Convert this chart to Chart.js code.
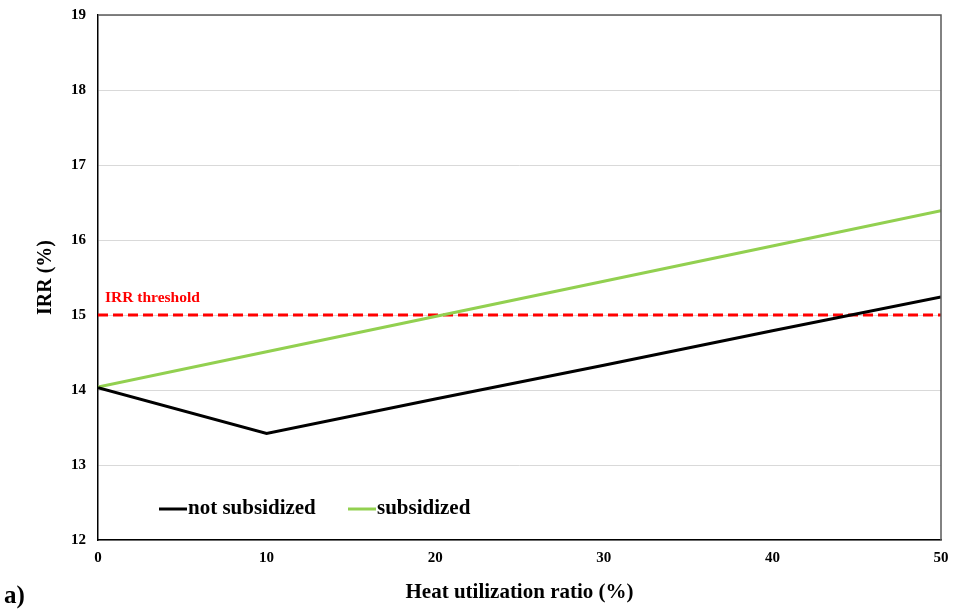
<!DOCTYPE html>
<html>
<head>
<meta charset="utf-8">
<script src="https://cdn.jsdelivr.net/npm/chart.js@4/dist/chart.umd.min.js"></script>
<style>
  html, body { margin: 0; padding: 0; background: #fff; }
  #wrap { width: 959px; height: 609px; position: relative; }
</style>
</head>
<body>
<div id="wrap"><canvas id="myChart" width="959" height="609"></canvas></div>
<script>
// data
const heatRatio = [0, 10, 20, 30, 40, 50];
const notSubsidized = [14.03, 13.42, 13.88, 14.33, 14.79, 15.24];
const subsidized = [14.04, 14.51, 14.98, 15.45, 15.92, 16.39];
const thresholdX = [0, 50];
const thresholdY = [15, 15];
const yTicks = [12, 13, 14, 15, 16, 17, 18, 19];

const serif = "'Liberation Serif', 'Times New Roman', serif";

const toPoints = (xs, ys) => xs.map((x, i) => ({ x: x, y: ys[i] }));

//box + legend + labels
const extras = {
  id: "extras",
  afterDraw(chart) {
    const ctx = chart.ctx;
    const a = chart.chartArea;
    ctx.save();
    // top and right border
    ctx.strokeStyle = "#595959";
    ctx.lineWidth = 1.5;
    ctx.beginPath();
    ctx.moveTo(a.left, a.top);
    ctx.lineTo(a.right, a.top);
    ctx.lineTo(a.right, a.bottom);
    ctx.stroke();

    // threshold label
    ctx.fillStyle = "#ff0000";
    ctx.font = "bold 15.5px " + serif;
    ctx.textBaseline = "middle";
    ctx.textAlign = "left";
    ctx.fillText("IRR threshold", 105, 298);

    // legend inside plot
    ctx.font = "bold 21px " + serif;
    const items = [
      { ds: chart.data.datasets[0], x: 159 },
      { ds: chart.data.datasets[1], x: 348 },
    ];
    items.forEach((it) => {
      ctx.strokeStyle = it.ds.borderColor;
      ctx.lineWidth = 3;
      ctx.beginPath();
      ctx.moveTo(it.x, 509);
      ctx.lineTo(it.x + 28, 509);
      ctx.stroke();
      ctx.fillStyle = "#000";
      ctx.fillText(it.ds.label, it.x + 29, 509);
    });

    // panel label
    ctx.font = "bold 25px " + serif;
    ctx.fillText("a)", 4, 597);
    ctx.restore();
  },
};

const ctx = document.getElementById("myChart");
const myChart = new Chart(ctx, {
  type: "line",
  data: {
    datasets: [
      {
        label: "not subsidized",
        data: toPoints(heatRatio, notSubsidized),
        borderColor: "#000000",
        borderWidth: 3,
        pointRadius: 0,
        tension: 0,
      },
      {
        label: "subsidized",
        data: toPoints(heatRatio, subsidized),
        borderColor: "#92d050",
        borderWidth: 3,
        pointRadius: 0,
        tension: 0,
      },
      {
        label: "IRR threshold",
        data: toPoints(thresholdX, thresholdY),
        borderColor: "#ff0000",
        borderWidth: 3,
        borderDash: [10, 5],
        pointRadius: 0,
      },
    ],
  },
  options: {
    responsive: false,
    animation: false,
    devicePixelRatio: 1,
    layout: { padding: { top: 15, right: 18, left: 0, bottom: 0 } },
    plugins: { legend: { display: false }, tooltip: { enabled: false } },
    scales: {
      x: {
        type: "linear",
        min: 0,
        max: 50,
        afterFit: (s) => { s.height = 69; },
        ticks: {
          stepSize: 10,
          padding: 9,
          color: "#000",
          maxRotation: 0,
          font: { family: serif, size: 15, weight: "bold" },
        },
        grid: { display: false, drawTicks: false },
        border: { color: "#000", width: 1.5 },
        title: {
          display: true,
          text: "Heat utilization ratio (%)",
          color: "#000",
          font: { family: serif, size: 21, weight: "bold" },
          padding: { top: 0, bottom: 4 },
        },
      },
      y: {
        min: 12,
        max: 19,
        afterFit: (s) => { s.width = 98; s.paddingTop = 0; },
        afterBuildTicks: (s) => { s.ticks = yTicks.map((v) => ({ value: v })); },
        ticks: {
          padding: 12,
          color: "#000",
          font: { family: serif, size: 15, weight: "bold" },
        },
        grid: { color: "#d9d9d9", lineWidth: 1, drawTicks: false },
        border: { color: "#000", width: 1.5 },
        title: {
          display: true,
          text: "IRR (%)",
          color: "#000",
          font: { family: serif, size: 20, weight: "bold" },
          padding: { top: 34, bottom: 0 },
        },
      },
    },
  },
  plugins: [extras],
});
</script>
</body>
</html>
